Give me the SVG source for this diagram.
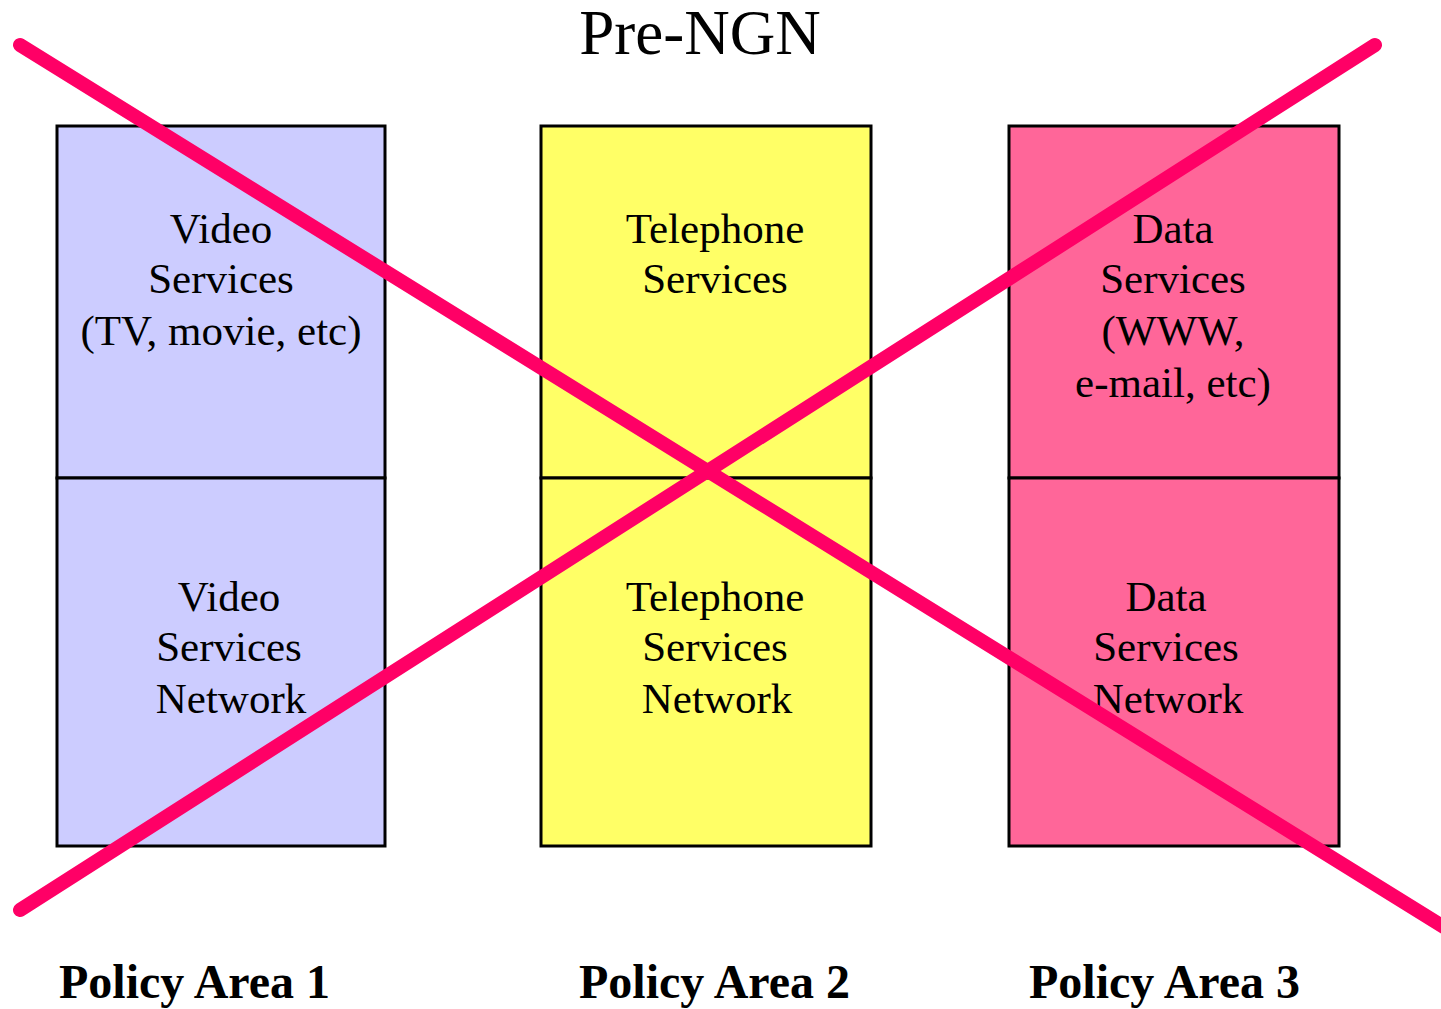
<svg xmlns="http://www.w3.org/2000/svg" width="1441" height="1009" viewBox="0 0 1441 1009">
  <style>
    .box { stroke: #000; stroke-width: 3; }
    .lbl { font-family: "Liberation Serif", "Times New Roman", serif; font-size: 43px; fill: #000; text-anchor: middle; }
    .title { font-family: "Liberation Serif", "Times New Roman", serif; font-size: 63px; fill: #000; text-anchor: middle; }
    .area { font-family: "Liberation Serif", "Times New Roman", serif; font-size: 48px; font-weight: bold; fill: #000; }
    .cross { stroke: #FF0066; stroke-width: 14; stroke-linecap: round; fill: none; }
  </style>
  <rect width="1441" height="1009" fill="#fff"/>

  <text class="title" x="700" y="54">Pre-NGN</text>

  <!-- Policy area 1: video -->
  <g id="video-services">
    <rect class="box" x="57" y="126" width="328" height="352" fill="#CCCCFF"/>
    <text class="lbl" x="221" y="243">Video</text>
    <text class="lbl" x="221" y="293">Services</text>
    <text class="lbl" x="221" y="345">(TV, movie, etc)</text>
  </g>
  <g id="video-network">
    <rect class="box" x="57" y="478" width="328" height="368" fill="#CCCCFF"/>
    <text class="lbl" x="229" y="611">Video</text>
    <text class="lbl" x="229" y="661">Services</text>
    <text class="lbl" x="231" y="713">Network</text>
  </g>

  <!-- Policy area 2: telephone -->
  <g id="telephone-services">
    <rect class="box" x="541" y="126" width="330" height="352" fill="#FFFF66"/>
    <text class="lbl" x="715" y="243">Telephone</text>
    <text class="lbl" x="715" y="293">Services</text>
  </g>
  <g id="telephone-network">
    <rect class="box" x="541" y="478" width="330" height="368" fill="#FFFF66"/>
    <text class="lbl" x="715" y="611">Telephone</text>
    <text class="lbl" x="715" y="661">Services</text>
    <text class="lbl" x="717" y="713">Network</text>
  </g>

  <!-- Policy area 3: data -->
  <g id="data-services">
    <rect class="box" x="1009" y="126" width="330" height="352" fill="#FF6699"/>
    <text class="lbl" x="1173" y="243">Data</text>
    <text class="lbl" x="1173" y="293">Services</text>
    <text class="lbl" x="1173" y="345">(WWW,</text>
    <text class="lbl" x="1173" y="397">e-mail, etc)</text>
  </g>
  <g id="data-network">
    <rect class="box" x="1009" y="478" width="330" height="368" fill="#FF6699"/>
    <text class="lbl" x="1166" y="611">Data</text>
    <text class="lbl" x="1166" y="661">Services</text>
    <text class="lbl" x="1168" y="713">Network</text>
  </g>

  <text class="area" x="59" y="998">Policy Area 1</text>
  <text class="area" x="579" y="998">Policy Area 2</text>
  <text class="area" x="1029" y="998">Policy Area 3</text>

  <!-- strike-through cross -->
  <g id="connectors">
    <line class="cross" x1="20" y1="45" x2="1460" y2="937"/>
    <line class="cross" x1="20" y1="910" x2="1375" y2="45"/>
  </g>
</svg>
